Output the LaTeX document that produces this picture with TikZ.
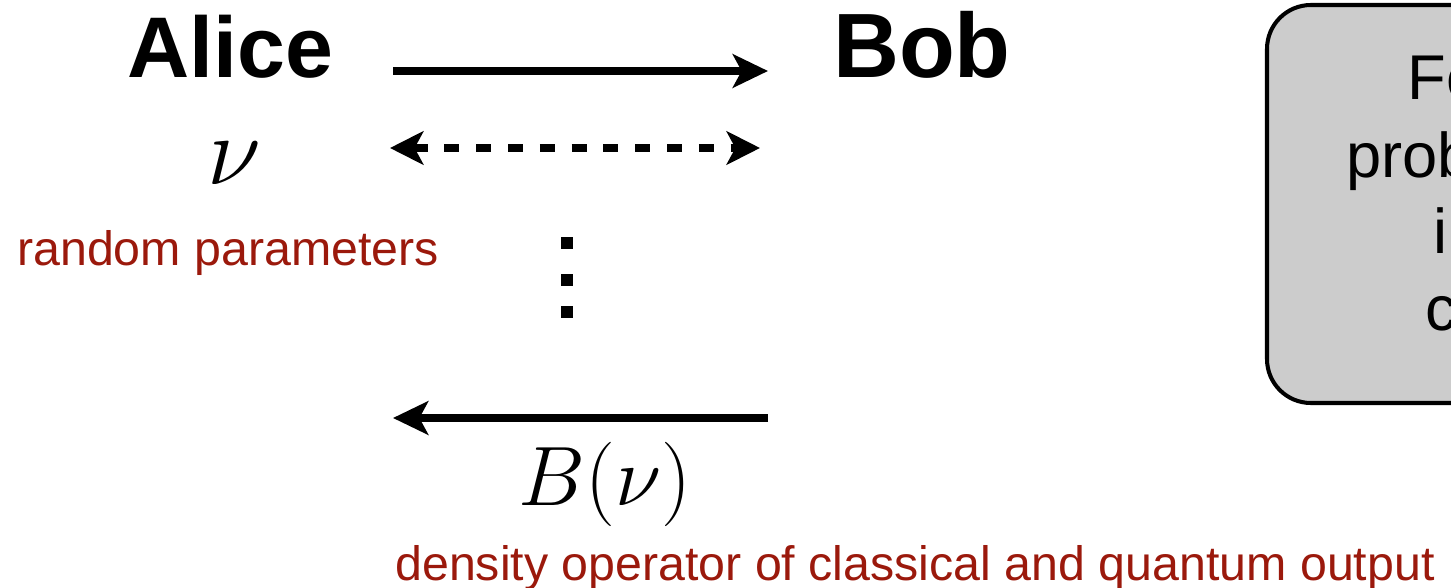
\RequirePackage{fix-cm}
\documentclass[tikz,border=0pt]{standalone}
\usepackage{xcolor}
\usepackage{amsmath}
\usepackage{fontspec}
\setmainfont{Liberation Sans}
\usetikzlibrary{arrows.meta, positioning}
\definecolor{paramred}{RGB}{155,25,12}
\definecolor{boxgray}{RGB}{204,204,204}

\begin{document}
\begin{tikzpicture}[x=0.02cm,y=-0.02cm,
    msg/.style={line width=4pt,-{Stealth[length=20pt,width=19pt,inset=5pt]}},
    note/.style={font=\fontsize{27.5}{33}\selectfont\color{paramred}}]
    \useasboundingbox (0,0) rectangle (1451,588);
    \clip (0,0) rectangle (1451,588);
    % parties
    \node[font=\fontsize{49}{58}\selectfont\bfseries,anchor=base] (alice) at (230,78) {Alice};
    \node[font=\fontsize{52}{60}\selectfont\bfseries,anchor=base] (bob) at (922,78) {Bob};
    \node[font=\fontsize{56}{64}\selectfont,anchor=base] (nu) at (234,184) {$\nu$};
    \node[note,anchor=base] (params) at (228,265) {random parameters};
    % message arrows
    \coordinate (topL) at (393,71);  \coordinate (topR) at (768,71);
    \coordinate (midL) at (390,148); \coordinate (midR) at (760,148);
    \coordinate (botL) at (393,418); \coordinate (botR) at (768,418);
    \draw[msg] (topL) -- (topR);
    \draw[msg,{Stealth[length=19pt,width=19pt,inset=5pt]}-{Stealth[length=19pt,width=19pt,inset=5pt]},
          line width=4pt,dash pattern=on 8.5pt off 9.6pt] (midL) -- (midR);
    \draw[msg,line width=4.5pt] (botR) -- (botL);
    \foreach \y in {243,280,312}
      \fill (561,\y-6) rectangle (573,\y+6);
    \node[font=\fontsize{48}{56}\selectfont,anchor=base] (out) at (605,505) {$B(\nu)$};
    \node[note,anchor=base] (state) at (915,580) {density operator of classical and quantum output};
    % info box (cut at the border)
    \draw[line width=2.3pt,fill=boxgray,rounded corners=25pt] (1267,5) rectangle (1700,403);
    \begin{scope}[every node/.style={font=\fontsize{36}{43}\selectfont,anchor=base west,inner sep=0pt}]
      \node (l1) at (1407,100) {Fo};
      \node (l2) at (1346,177) {prob};
      \node (l3) at (1433,253) {i};
      \node (l4) at (1425,330) {c};
    \end{scope}
  \end{tikzpicture}
\end{document}
